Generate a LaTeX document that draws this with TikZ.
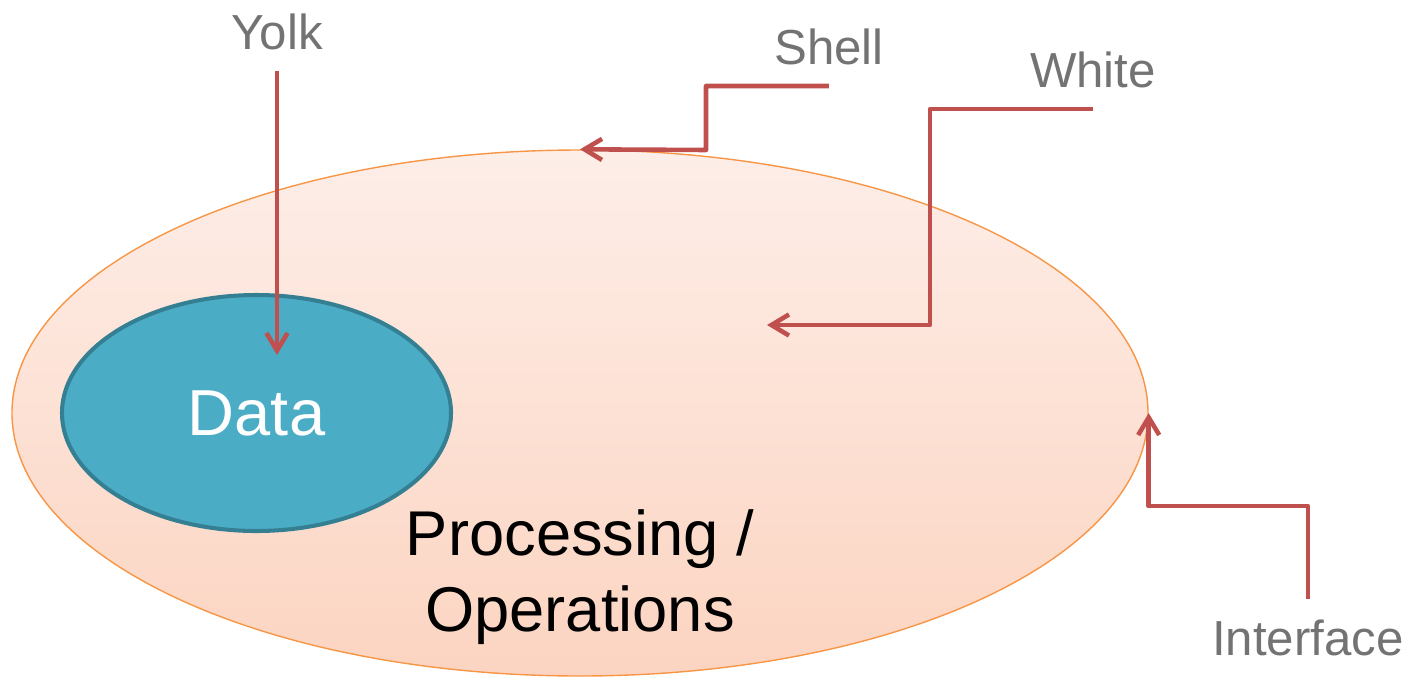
\documentclass[tikz,border=0pt]{standalone}
\usepackage{fontspec}
\setmainfont{Liberation Sans}
\usepackage{xcolor}
\definecolor{colorShellLine}{HTML}{F79646}
\definecolor{colorWhiteTop}{HTML}{FDEEE8}
\definecolor{colorWhiteBottom}{HTML}{FCD4C1}
\definecolor{colorYolk}{HTML}{4BACC6}
\definecolor{colorYolkLine}{HTML}{357F92}
\definecolor{colorPointer}{HTML}{C0504D}
\definecolor{colorLabel}{HTML}{737373}
\usepackage{tikz}
\usetikzlibrary{arrows.meta, shapes.geometric, positioning}
\tikzset{
  egglabel/.style={text=colorLabel, font=\fontsize{14}{16}\selectfont, inner sep=6pt, text height=9.8pt, text depth=0pt},
  pointer/.style={->, colorPointer, line width=1.3pt, line join=round},
}

\begin{document}
\begin{tikzpicture}[>={Straight Barb[length=5pt,width=6pt]}, every node/.style={align=center}]
\useasboundingbox (0,0) rectangle (14.1,6.77);
\node[ellipse, draw=colorShellLine, thin, top color=colorWhiteTop, bottom color=colorWhiteBottom, minimum width=11.36cm, minimum height=5.26cm] (egg) at (5.80,2.64) {};
\node[ellipse, draw=colorYolkLine, line width=1.15pt, fill=colorYolk, minimum width=3.89cm, minimum height=2.36cm, text=white, font=\fontsize{18.5}{22}\selectfont] (data) at (2.565,2.64) {\raisebox{-2pt}{Data}};
\node[font=\fontsize{18}{21.6}\selectfont] (ops) at (5.80,1.00) {Processing /\\Operations};
\node[egglabel] (yolk) at (2.77,6.45) {Yolk};
\node[egglabel] (shell) at (8.29,6.30) {Shell};
\node[egglabel] (white) at (10.93,6.07) {White};
\node[egglabel] (interface) at (13.08,0.39) {Interface};
\coordinate (yolktip) at (2.77,3.22);
\coordinate (whitetip) at (7.67,3.52);
\draw [pointer] (yolk.south) -- (yolktip);
\draw [pointer] (shell.south) -| (7.06,5.27) -- (egg.north);
\draw [pointer] (white.south) -| (9.30,3.52) -- (whitetip);
\draw [pointer] (interface.north) -- (13.08,1.71) -| (egg.east);
\end{tikzpicture}
\end{document}
